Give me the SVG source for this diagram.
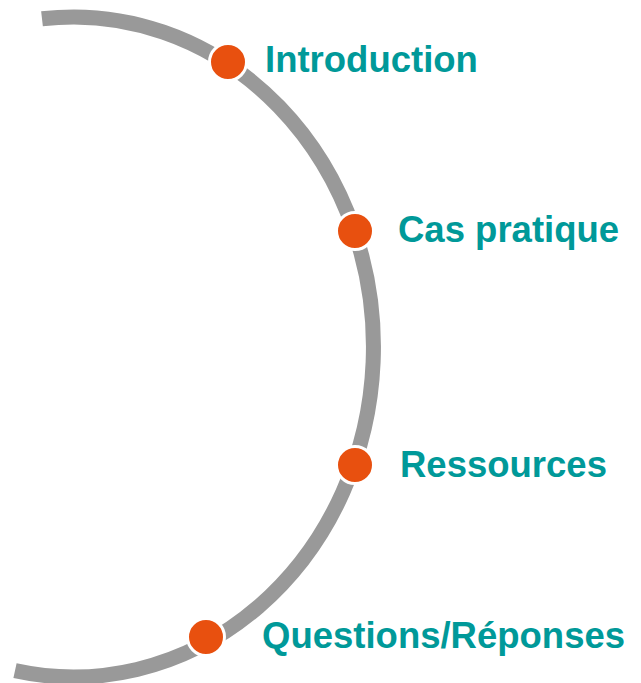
<svg xmlns="http://www.w3.org/2000/svg" width="641" height="683" viewBox="0 0 641 683">
<style>
.arc{fill:none;stroke:#999999;stroke-width:15}
.dot{fill:#E8500F;stroke:#FFFFFF;stroke-width:3}
.lbl{font-family:"Liberation Sans",Arial,sans-serif;font-weight:bold;font-size:36.5px;fill:#009999}
</style>
<rect width="641" height="683" fill="#FFFFFF"/>
<g id="connectors">
<path class="arc" d="M 42 18.8 A 300 330 0 1 1 15 670.66"/>
</g>
<g id="node-introduction">
<circle class="dot" cx="228" cy="62" r="18.5"/>
<text class="lbl" x="265" y="72">Introduction</text>
</g>
<g id="node-cas-pratique">
<circle class="dot" cx="355" cy="231" r="18.5"/>
<text class="lbl" x="398" y="242">Cas pratique</text>
</g>
<g id="node-ressources">
<circle class="dot" cx="355" cy="465" r="18.5"/>
<text class="lbl" x="400" y="477">Ressources</text>
</g>
<g id="node-questions">
<circle class="dot" cx="206" cy="637" r="18.5"/>
<text class="lbl" x="262" y="648">Questions/Réponses</text>
</g>
</svg>
